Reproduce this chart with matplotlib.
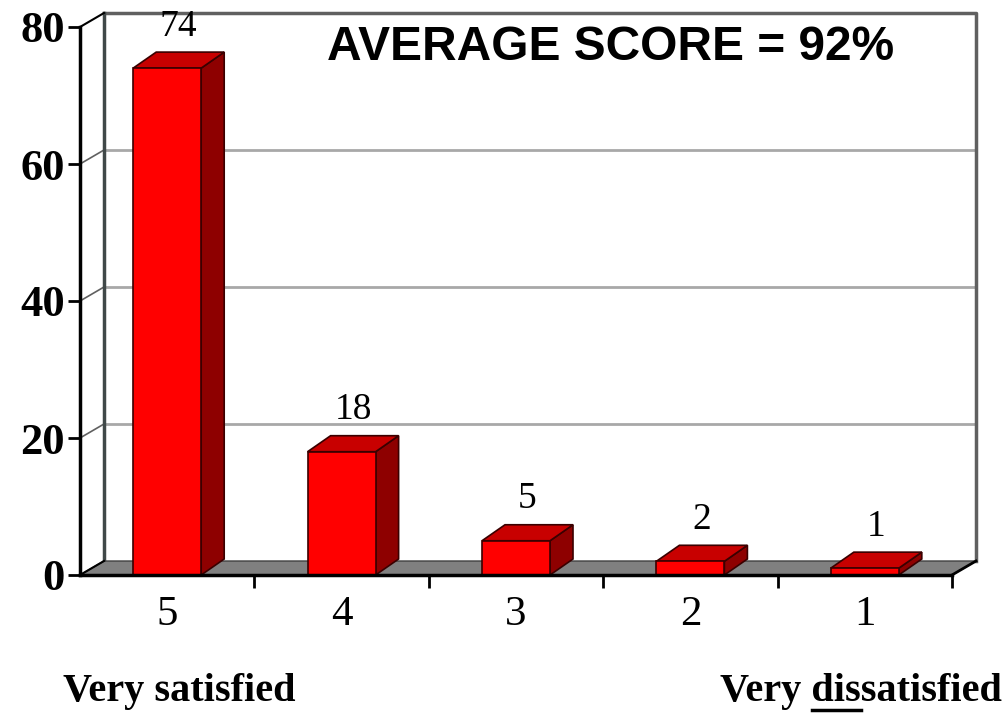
import numpy as np
import matplotlib.pyplot as plt
from matplotlib.patches import Polygon

categories = ['5', '4', '3', '2', '1']
values = [74, 18, 5, 2, 1]
yticks = [0, 20, 40, 60, 80]
title = 'AVERAGE SCORE = 92%'
left_note = 'Very satisfied'
right_note = 'Very dissatisfied'

serif = 'Liberation Serif'
W, H = 1005, 714
fig = plt.figure(figsize=(W / 100, H / 100), dpi=100)
# front plane of the box: x 80..952 px, y 27..575 px
ax = fig.add_axes([80 / W, 1 - 575 / H, 872 / W, 548 / H])
ax.set_xlim(0, 5)
ax.set_ylim(0, 80)

px_x = 5 / 872      # data units per pixel
px_y = 80 / 548
dx, dy = 24 * px_x, 14 * px_y      # wall depth
bdx, bdy = 23 * px_x, 16 * px_y    # bar depth
bw = 68 * px_x

# floor
ax.add_patch(Polygon([(0, 0), (5, 0), (5 + dx, dy), (dx, dy)], closed=True,
                     facecolor='#808080', edgecolor='#404040', lw=1, zorder=1, clip_on=False))
# back wall gridlines and frame
for t in yticks[1:-1]:
    ax.plot([dx, 5 + dx], [t + dy, t + dy], color='#a8a8a8', lw=2, zorder=0.5, clip_on=False)
    ax.plot([0, dx], [t, t + dy], color='#606060', lw=1.2, zorder=0.5, clip_on=False)
ax.plot([dx, 5 + dx, 5 + dx], [80 + dy, 80 + dy, dy], color='#606060', lw=2.5,
        zorder=0.5, clip_on=False)
ax.plot([dx, dx], [dy, 80 + dy], color='#404848', lw=2.5, zorder=0.5, clip_on=False)
ax.plot([0, dx], [80, 80 + dy], color='black', lw=1.5, zorder=0.5, clip_on=False)
ax.plot([0, dx], [0, dy], color='black', lw=1.5, zorder=1.2, clip_on=False)
ax.plot([5, 5 + dx], [0, dy], color='black', lw=2, zorder=1.2, clip_on=False)

# bars
centers = np.arange(len(categories)) + 0.5
ax.bar(centers, values, width=bw, color='#ff0000', edgecolor='#3a0000', lw=1.2, zorder=3)
for c, v in zip(centers, values):
    r, l = c + bw / 2, c - bw / 2
    ax.add_patch(Polygon([(r, 0), (r + bdx, bdy), (r + bdx, v + bdy), (r, v)], closed=True,
                         facecolor='#8e0000', edgecolor='#3a0000', lw=1.2, zorder=2.5, clip_on=False))
    ax.add_patch(Polygon([(l, v), (r, v), (r + bdx, v + bdy), (l + bdx, v + bdy)], closed=True,
                         facecolor='#c80000', edgecolor='#3a0000', lw=1.2, zorder=2.6, clip_on=False))
    ax.annotate(str(v), (c + bdx / 2, v + bdy), xytext=(0, 6), textcoords='offset points',
                ha='center', va='bottom', fontsize=27, family=serif, zorder=4)

# axes
for s in ['top', 'right']:
    ax.spines[s].set_visible(False)
for s in ['left', 'bottom']:
    ax.spines[s].set_linewidth(2.5)
    ax.spines[s].set_zorder(5)
ax.set_yticks(yticks)
ax.set_yticklabels([str(t) for t in yticks], fontsize=32, family=serif, fontweight='bold')
ax.tick_params(axis='y', length=9, width=2, pad=2)
ax.set_xticks(np.arange(1, 6))
ax.set_xticklabels([])
ax.tick_params(axis='x', which='major', length=9, width=2, direction='out')
ax.set_xticks(centers, minor=True)
ax.set_xticklabels(categories, minor=True, fontsize=31, family=serif)
ax.tick_params(axis='x', which='minor', length=0, pad=15)

fig.text(611 / W, 1 - 48 / H, title, ha='center', va='center', fontsize=34.5,
         family='Liberation Sans', fontweight='bold')
fig.text(63 / W, 1 - 692 / H, left_note, ha='left', va='center', fontsize=29,
         family=serif, fontweight='bold')
rt = fig.text(1002 / W, 1 - 692 / H, right_note, ha='right', va='center', fontsize=29,
              family=serif, fontweight='bold')

# underline "dis"
fig.canvas.draw()
rend = fig.canvas.get_renderer()
full = rt.get_window_extent(rend)
def width_of(s):
    t = fig.text(0, 0, s, fontsize=29, family=serif, fontweight='bold')
    w = t.get_window_extent(rend).width
    t.remove()
    return w
x0 = full.x0 + width_of('Very ')
x1 = full.x0 + width_of('Very dis')
yline = full.y0 + 1
fig.add_artist(plt.Line2D([x0 / W, x1 / W], [yline / H, yline / H], color='black', lw=2.5))

fig.savefig('out.png', dpi=100, facecolor='white')
